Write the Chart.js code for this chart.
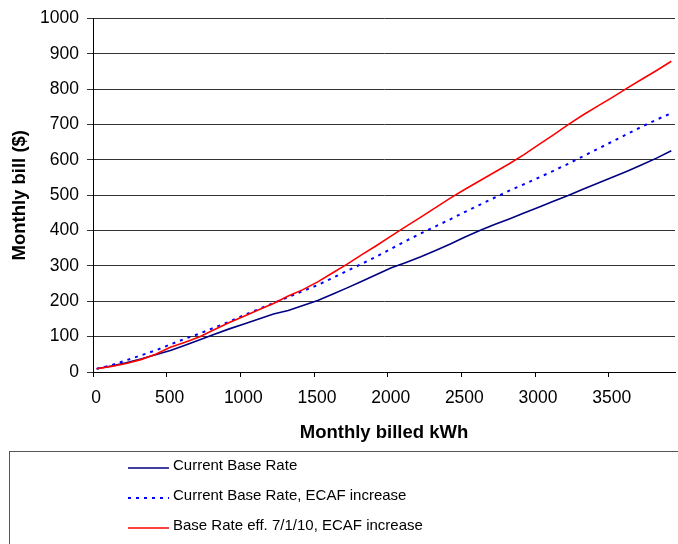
<!DOCTYPE html>
<html>
<head>
<meta charset="utf-8">
<title>Monthly bill</title>
<script src="https://cdn.jsdelivr.net/npm/chart.js@4.4.1/dist/chart.umd.min.js"></script>
<style>
    html, body { margin: 0; padding: 0; background: #fff; }
    #chart { display: block; }
</style>
</head>
<body>
<canvas id="chart" width="678" height="544"></canvas>
<script>
// Monatsverbrauch in kWh (x-Werte)
const kwh = [25, 125, 225, 325, 425, 525, 625, 725, 825, 925,
    1025, 1125, 1225, 1325, 1425, 1525, 1625, 1725, 1825, 1925,
    2025, 2125, 2225, 2325, 2425, 2525, 2625, 2725, 2825, 2925,
    3025, 3125, 3225, 3325, 3425, 3525, 3625, 3725, 3825, 3925];

// Monatsrechnung in $ je Tarif
const currentBase = [9, 17, 26, 37, 49, 61, 76, 91, 107, 122,
    136, 150, 164, 174, 188, 202, 220, 238, 257, 276,
    295, 310, 326, 344, 362, 382, 400, 417, 433, 450,
    466, 483, 499, 517, 534, 551, 568, 586, 605, 626];
const currentBaseEcaf = [9, 19, 33, 47, 61, 78, 94, 109, 126, 142,
    161, 178, 195, 212, 229, 246, 266, 286, 306, 327,
    349, 371, 392, 412, 432, 453, 473, 493, 513, 531,
    550, 569, 589, 610, 631, 652, 673, 694, 714, 732];
const newBaseEcaf = [9, 16, 24, 35, 50, 70, 84, 100, 120, 140,
    158, 176, 194, 215, 233, 255, 280, 305, 332, 358,
    385, 412, 438, 465, 492, 517, 541, 565, 589, 615,
    643, 671, 700, 727, 752, 777, 803, 828, 853, 879];

const seriesLabels = ['Current Base Rate', 'Current Base Rate, ECAF increase', 'Base Rate eff. 7/1/10, ECAF increase'];
const yTicks = [0, 100, 200, 300, 400, 500, 600, 700, 800, 900, 1000];
const xTicks = [0, 500, 1000, 1500, 2000, 2500, 3000, 3500];

const FONT = '"Liberation Sans", Arial, sans-serif';

// Punkte fuer die lineare x-Achse
function toPoints(values) {
    return values.map((v, i) => ({ x: kwh[i], y: v }));
}

// Legende im Rahmen unter dem Diagramm
const boxedLegend = {
    id: 'boxedLegend',
    afterDraw(chart) {
        const ctx = chart.ctx;
        ctx.save();
        ctx.strokeStyle = '#555';
        ctx.lineWidth = 1;
        ctx.strokeRect(9.5, 451.5, 720, 120);
        ctx.font = '15px ' + FONT;
        ctx.textBaseline = 'middle';
        chart.data.datasets.forEach((ds, i) => {
            const y = 466 + i * 30;
            ctx.strokeStyle = ds.borderColor;
            ctx.lineWidth = ds.borderWidth;
            ctx.setLineDash(ds.borderDash || []);
            ctx.beginPath();
            ctx.moveTo(128, y + 2);
            ctx.lineTo(169, y + 2);
            ctx.stroke();
            ctx.setLineDash([]);
            ctx.fillStyle = '#000';
            ctx.fillText(ds.label, 173, y);
        });
        ctx.restore();
    }
};

new Chart(document.getElementById('chart').getContext('2d'), {
    type: 'line',
    data: {
        datasets: [
            {
                label: seriesLabels[0],
                data: toPoints(currentBase),
                borderColor: '#000080',
                borderWidth: 1.6,
                order: 2
            },
            {
                label: seriesLabels[1],
                data: toPoints(currentBaseEcaf),
                borderColor: '#0000ff',
                borderWidth: 2,
                borderDash: [3, 5],
                order: 1
            },
            {
                label: seriesLabels[2],
                data: toPoints(newBaseEcaf),
                borderColor: '#ff0000',
                borderWidth: 1.6,
                order: 0
            }
        ]
    },
    options: {
        responsive: false,
        animation: false,
        devicePixelRatio: 1,
        layout: { padding: { left: 0, right: 3, top: 15, bottom: 92 } },
        elements: { point: { radius: 0 }, line: { tension: 0 } },
        plugins: { legend: { display: false }, tooltip: { enabled: false } },
        scales: {
            x: {
                type: 'linear',
                min: 0,
                max: 3950,
                afterFit(scale) { scale.height = 80; },
                afterBuildTicks(scale) { scale.ticks = xTicks.map(v => ({ value: v })); },
                grid: { drawOnChartArea: false, drawTicks: true, tickLength: 5, color: '#000' },
                border: { color: '#000', width: 1 },
                ticks: {
                    color: '#000', padding: 11, labelOffset: 3, maxRotation: 0,
                    font: { family: FONT, size: 17.5 },
                    callback: v => String(v)
                },
                title: {
                    display: true,
                    text: 'Monthly billed kWh',
                    color: '#000',
                    padding: { top: 0, bottom: 8 },
                    font: { family: FONT, size: 18.5, weight: 'bold' }
                }
            },
            y: {
                min: 0,
                max: 1000,
                afterFit(scale) { scale.width = 93; },
                afterBuildTicks(scale) { scale.ticks = yTicks.map(v => ({ value: v })); },
                grid: { color: '#333', lineWidth: 1, drawTicks: true, tickLength: 6, tickColor: '#333' },
                border: { color: '#000', width: 1 },
                ticks: {
                    color: '#000', padding: 8,
                    font: { family: FONT, size: 17.5 },
                    callback: v => String(v)
                },
                title: {
                    display: true,
                    text: 'Monthly bill ($)',
                    color: '#000',
                    padding: { top: 9, bottom: 0 },
                    font: { family: FONT, size: 18.5, weight: 'bold' }
                }
            }
        }
    },
    plugins: [boxedLegend]
});
</script>
</body>
</html>
